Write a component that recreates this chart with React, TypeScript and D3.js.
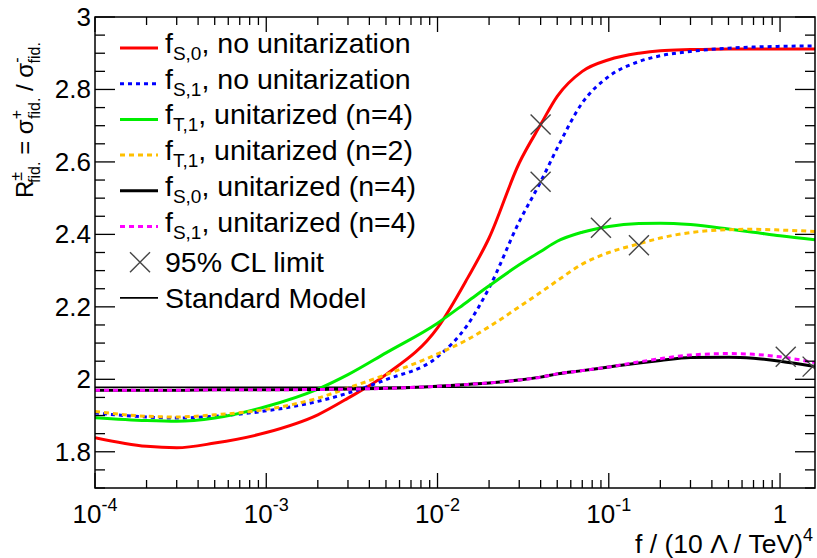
import React from 'react';
import * as d3 from 'd3';

// f grid shared by all curves
const fGrid = [1e-4, 2e-4, 3e-4, 5e-4, 1e-3, 2e-3, 3e-3, 5e-3, 1e-2, 1.5e-2, 2e-2, 3e-2, 4e-2, 5e-2, 7e-2, 0.1, 0.15, 0.2, 0.3, 0.5, 0.7, 1, 1.6];

const fS0NoUnit = [1.839, 1.815, 1.811, 1.824, 1.853, 1.902, 1.948, 2.013, 2.142, 2.28, 2.39, 2.597, 2.703, 2.781, 2.85, 2.882, 2.9, 2.907, 2.91, 2.912, 2.912, 2.912, 2.912];
const fS1NoUnit = [1.907, 1.896, 1.893, 1.898, 1.913, 1.939, 1.962, 1.999, 2.062, 2.151, 2.252, 2.435, 2.545, 2.638, 2.763, 2.836, 2.877, 2.893, 2.905, 2.914, 2.917, 2.919, 2.92];
const fT1Unit4 = [1.894, 1.886, 1.884, 1.893, 1.925, 1.973, 2.013, 2.073, 2.155, 2.215, 2.258, 2.316, 2.353, 2.381, 2.406, 2.422, 2.43, 2.431, 2.427, 2.415, 2.406, 2.396, 2.385];
const fT1Unit2 = [1.911, 1.898, 1.896, 1.902, 1.917, 1.948, 1.976, 2.013, 2.07, 2.11, 2.145, 2.2, 2.24, 2.272, 2.318, 2.35, 2.374, 2.39, 2.405, 2.413, 2.414, 2.412, 2.408];
const fS0Unit4 = [1.97, 1.97, 1.97, 1.971, 1.971, 1.972, 1.973, 1.975, 1.981, 1.986, 1.99, 1.998, 2.006, 2.015, 2.024, 2.034, 2.045, 2.052, 2.06, 2.061, 2.058, 2.05, 2.035];
const fS1Unit4 = [1.97, 1.97, 1.97, 1.971, 1.971, 1.972, 1.973, 1.975, 1.981, 1.986, 1.99, 1.998, 2.006, 2.015, 2.024, 2.034, 2.048, 2.057, 2.067, 2.071, 2.069, 2.062, 2.046];
const smValue = 1.978;

// 95% CL limits [f, R]
const limitF = [0.04, 0.04, 0.09, 0.15, 1.08, 1.55];
const limitR = [2.703, 2.545, 2.418, 2.37, 2.062, 2.035];

const yTicks = [1.8, 2, 2.2, 2.4, 2.6, 2.8, 3];
const xDecades = [-4, -3, -2, -1, 0];

const series = [
  { sub: 'S,0', label: ', no unitarization', values: fS0NoUnit, color: '#ff0000', dash: null },
  { sub: 'S,1', label: ', no unitarization', values: fS1NoUnit, color: '#0000ff', dash: '4,4' },
  { sub: 'T,1', label: ', unitarized (n=4)', values: fT1Unit4, color: '#00ee00', dash: null },
  { sub: 'T,1', label: ', unitarized (n=2)', values: fT1Unit2, color: '#ffc000', dash: '5,4' },
  { sub: 'S,0', label: ', unitarized (n=4)', values: fS0Unit4, color: '#000000', dash: null },
  { sub: 'S,1', label: ', unitarized (n=4)', values: fS1Unit4, color: '#ff00ff', dash: '5,4' },
];

const W = 817, H = 558;
const L = 95, R = 815, T = 17, B = 488;
const font = 'Liberation Sans, Arial, Helvetica, sans-serif';

export default function App() {
  const x = d3.scaleLog().domain([1e-4, 1.6]).range([L, R]);
  const y = d3.scaleLinear().domain([1.7, 3]).range([B, T]);
  const line = d3.line<number>()
    .x((d, i) => x(fGrid[i]))
    .y(d => y(d))
    .curve(d3.curveMonotoneX);

  const minorX: number[] = [];
  xDecades.forEach(e => {
    for (let k = 2; k <= 9; k++) {
      const v = k * Math.pow(10, e);
      if (v <= 1.6) minorX.push(v);
    }
  });
  const minorY = d3.range(1.7, 3.0001, 0.05).filter(v => !yTicks.some(t => Math.abs(t - v) < 1e-6));

  const cross = (cx: number, cy: number, key: string) => (
    <g key={key} stroke="#444" strokeWidth={1.4}>
      <line x1={cx - 10} y1={cy - 10} x2={cx + 10} y2={cy + 10} />
      <line x1={cx - 10} y1={cy + 10} x2={cx + 10} y2={cy - 10} />
    </g>
  );

  const rowY = (i: number) => 48 + i * 35.7;

  return (
    <div style={{ position: 'absolute', left: 0, top: 0 }}>
      <svg width={W} height={H} style={{ display: 'block', background: '#fff' }} fontFamily={font}>
        <defs>
          <clipPath id="plot">
            <rect x={L} y={T} width={R - L} height={B - T} />
          </clipPath>
        </defs>
        <g clipPath="url(#plot)" fill="none">
          <line x1={L} x2={R} y1={y(smValue)} y2={y(smValue)} stroke="#000" strokeWidth={1.6} />
          {series.map((s, i) => (
            <path key={i} d={line(s.values) || ''} stroke={s.color} strokeWidth={3}
              strokeDasharray={s.dash || undefined} />
          ))}
          {limitF.map((f, i) => cross(x(f), y(limitR[i]), 'c' + i))}
        </g>

        {/* frame */}
        <rect x={L} y={T} width={R - L} height={B - T} fill="none" stroke="#000" strokeWidth={1.5} />

        {/* x ticks */}
        {xDecades.map(e => {
          const px = x(Math.pow(10, e));
          return (
            <g key={'xd' + e} stroke="#000" strokeWidth={1.3}>
              <line x1={px} x2={px} y1={B} y2={B - 15} />
              <line x1={px} x2={px} y1={T} y2={T + 15} />
            </g>
          );
        })}
        {minorX.map((v, i) => (
          <g key={'xm' + i} stroke="#000" strokeWidth={1.3}>
            <line x1={x(v)} x2={x(v)} y1={B} y2={B - 8} />
            <line x1={x(v)} x2={x(v)} y1={T} y2={T + 8} />
          </g>
        ))}
        {xDecades.map(e => (
          <text key={'xl' + e} x={x(Math.pow(10, e))} y={523} fontSize={26} textAnchor="middle" fill="#000">
            {e === 0 ? '1' : <>10<tspan fontSize={18} dy={-12}>{e}</tspan></>}
          </text>
        ))}

        {/* y ticks */}
        {yTicks.map(t => (
          <g key={'yt' + t} stroke="#000" strokeWidth={1.3}>
            <line x1={L} x2={L + 20} y1={y(t)} y2={y(t)} />
            <line x1={R} x2={R - 20} y1={y(t)} y2={y(t)} />
          </g>
        ))}
        {minorY.map((v, i) => (
          <g key={'ym' + i} stroke="#000" strokeWidth={1.3}>
            <line x1={L} x2={L + 10} y1={y(v)} y2={y(v)} />
            <line x1={R} x2={R - 10} y1={y(v)} y2={y(v)} />
          </g>
        ))}
        {yTicks.map(t => (
          <text key={'yl' + t} x={91} y={y(t) + 9} fontSize={26} textAnchor="end" fill="#000">{String(t)}</text>
        ))}

        {/* axis titles */}
        <text x={813} y={553} fontSize={26.5} textAnchor="end" fill="#000">
          f / (10 Λ / TeV)<tspan fontSize={18} dy={-12}>4</tspan>
        </text>
        <text transform="translate(33,198) rotate(-90)" fontSize={24} fill="#000">
          R<tspan fontSize={16} dy={-11}>±</tspan><tspan fontSize={16} dx={-11} dy={18}>fid.</tspan>
          <tspan dy={-7}> = σ</tspan><tspan fontSize={16} dy={-11}>+</tspan><tspan fontSize={16} dx={-9} dy={18}>fid.</tspan>
          <tspan dy={-7}> / σ</tspan><tspan fontSize={16} dy={-11}>-</tspan><tspan fontSize={16} dx={-6} dy={18}>fid.</tspan>
        </text>

        {/* legend */}
        {series.map((s, i) => {
          const ly = rowY(i);
          return (
            <g key={'lg' + i}>
              <line x1={120} x2={158} y1={ly} y2={ly} stroke={s.color} strokeWidth={3} strokeDasharray={s.dash || undefined} />
              <text x={165} y={ly + 5} fontSize={28.5} fill="#000">
                f<tspan fontSize={19} dy={7}>{s.sub}</tspan><tspan dy={-7}>{s.label}</tspan>
              </text>
            </g>
          );
        })}
        {cross(140, rowY(6), 'lgc')}
        <text x={165} y={rowY(6) + 10} fontSize={28.5} fill="#000">95% CL limit</text>
        <line x1={120} x2={158} y1={rowY(7)} y2={rowY(7)} stroke="#000" strokeWidth={1.6} />
        <text x={165} y={rowY(7) + 10} fontSize={28.5} fill="#000">Standard Model</text>
      </svg>
    </div>
  );
}
